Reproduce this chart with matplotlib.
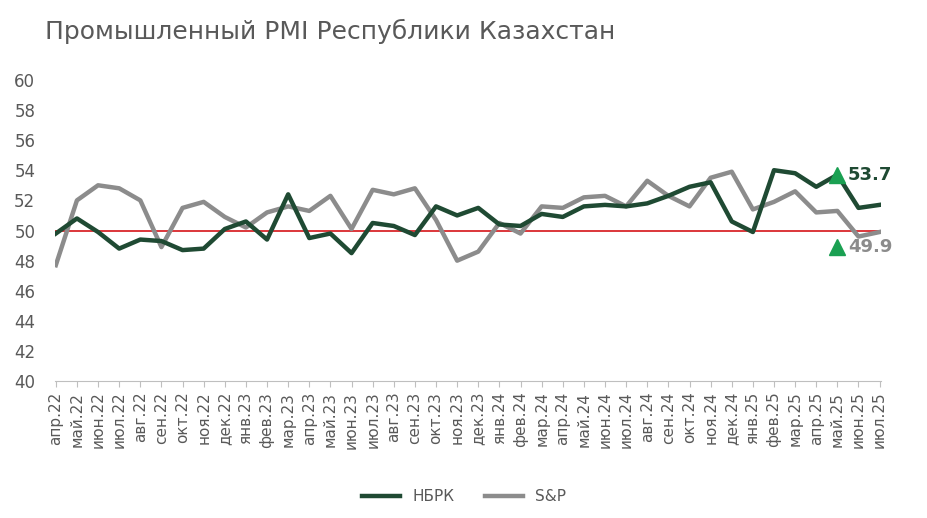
import matplotlib
matplotlib.use("Agg")
from matplotlib import pyplot as plt

months = ["апр.22", "май.22", "июн.22", "июл.22", "авг.22", "сен.22", "окт.22", "ноя.22", "дек.22",
          "янв.23", "фев.23", "мар.23", "апр.23", "май.23", "июн.23", "июл.23", "авг.23", "сен.23",
          "окт.23", "ноя.23", "дек.23", "янв.24", "фев.24", "мар.24", "апр.24", "май.24", "июн.24",
          "июл.24", "авг.24", "сен.24", "окт.24", "ноя.24", "дек.24", "янв.25", "фев.25", "мар.25",
          "апр.25", "май.25", "июн.25", "июл.25"]
nbrk = [49.8, 50.8, 49.9, 48.8, 49.4, 49.3, 48.7, 48.8, 50.1, 50.6, 49.4, 52.4, 49.5,
        49.8, 48.5, 50.5, 50.3, 49.7, 51.6, 51.0, 51.5, 50.4, 50.3, 51.1, 50.9, 51.6, 51.7,
        51.6, 51.8, 52.3, 52.9, 53.2, 50.6, 49.9, 54.0, 53.8, 52.9, 53.7, 51.5, 51.7]
sp = [47.7, 52.0, 53.0, 52.8, 52.0, 48.9, 51.5, 51.9, 50.9, 50.2, 51.2, 51.6, 51.3,
      52.3, 50.1, 52.7, 52.4, 52.8, 50.7, 48.0, 48.6, 50.5, 49.8, 51.6, 51.5, 52.2, 52.3,
      51.6, 53.3, 52.3, 51.6, 53.5, 53.9, 51.4, 51.9, 52.6, 51.2, 51.3, 49.6, 49.9]

green = "#1f4a33"
grey = "#8c8c8c"

fig = plt.figure(figsize=(9.28, 5.18), dpi=100)
ax = fig.add_axes([0.059, 0.264, 0.89, 0.582])
x = range(len(months))

ax.axhline(50, color="#d9262b", lw=1.3, zorder=1)
ax.plot(x, nbrk, color=green, lw=3.2, label="НБРК", zorder=3)
ax.plot(x, sp, color=grey, lw=3.2, label="S&P", zorder=2)

i = months.index("май.25")
ax.plot(i, nbrk[i], marker="^", color="#1aa052", ms=12, zorder=4)
ax.text(i + 0.5, nbrk[i], f"{nbrk[i]:.1f}", color=green, fontsize=13, fontweight="bold", va="center")
ax.plot(i, 48.9, marker="^", color="#1aa052", ms=12, zorder=4)
ax.text(i + 0.5, 48.9, f"{sp[-1]:.1f}", color=grey, fontsize=13, fontweight="bold", va="center")

ax.set_ylim(40, 60)
ax.set_yticks(range(40, 61, 2))
ax.set_xlim(-0.05, len(months) - 0.95)
ax.set_xticks(list(x))
ax.set_xticklabels(months, rotation=90, fontsize=11, color="#595959")
ax.tick_params(axis="y", length=0, labelsize=12, labelcolor="#595959", pad=14)
ax.tick_params(axis="x", color="#bfbfbf", length=4)
for s in ["top", "right", "left"]:
    ax.spines[s].set_visible(False)
ax.spines["bottom"].set_color("#bfbfbf")

fig.text(0.048, 0.925, "Промышленный PMI Республики Казахстан", fontsize=18, color="#595959")
fig.legend(loc="lower center", bbox_to_anchor=(0.5, 0.0), ncol=2, frameon=False,
           fontsize=11, handlelength=2.5, labelcolor="#595959")

fig.savefig("out.png", dpi=100)
